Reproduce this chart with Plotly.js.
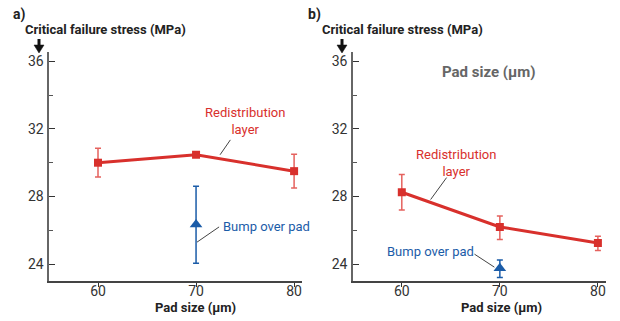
<!DOCTYPE html>
<html><head><meta charset="utf-8">
<script src="https://cdn.plot.ly/plotly-3.0.1.min.js"></script>
<style>html,body{margin:0;padding:0;background:#fff}#plot{width:620px;height:321px}</style>
</head><body><div id="plot"></div>
<script>
// Data
const padSize = [60, 70, 80];
const rdlA = [30.0, 30.47, 29.5];
const rdlAerr = [0.85, 0, 1.0];
const bumpAx = [70];
const bumpA = [26.35];
const bumpAerrPlus = [2.25];
const bumpAerrMinus = [2.3];
const rdlB = [28.25, 26.2, 25.25];
const rdlBerrPlus = [1.05, 0.65, 0.4];
const rdlBerrMinus = [1.05, 0.75, 0.45];
const bumpBx = [70];
const bumpB = [23.75];
const bumpBerrPlus = [0.5];
const bumpBerrMinus = [0.55];
const xTicks = [60, 70, 80];

const RED = '#d8302c', RED_ERR = '#e5625e', BLUE = '#1b5ca8';
const FONT = 'Roboto, "Liberation Sans", Arial, sans-serif';

const traces = [
  {x: padSize, y: rdlA, xaxis: 'x', yaxis: 'y', mode: 'lines+markers', type: 'scatter',
   line: {color: RED, width: 3}, marker: {symbol: 'square', size: 8, color: RED},
   error_y: {type: 'data', array: rdlAerr, color: RED_ERR, thickness: 1.5, width: 3}},
  {x: bumpAx, y: bumpA, xaxis: 'x', yaxis: 'y', mode: 'markers', type: 'scatter',
   marker: {symbol: 'triangle-up', size: 11, color: BLUE},
   error_y: {type: 'data', symmetric: false, array: bumpAerrPlus, arrayminus: bumpAerrMinus, color: BLUE, thickness: 1.5, width: 3}},
  {x: padSize, y: rdlB, xaxis: 'x2', yaxis: 'y2', mode: 'lines+markers', type: 'scatter',
   line: {color: RED, width: 3}, marker: {symbol: 'square', size: 8, color: RED},
   error_y: {type: 'data', symmetric: false, array: rdlBerrPlus, arrayminus: rdlBerrMinus, color: RED_ERR, thickness: 1.5, width: 3}},
  {x: bumpBx, y: bumpB, xaxis: 'x2', yaxis: 'y2', mode: 'markers', type: 'scatter',
   marker: {symbol: 'triangle-up', size: 11, color: BLUE},
   error_y: {type: 'data', symmetric: false, array: bumpBerrPlus, arrayminus: bumpBerrMinus, color: BLUE, thickness: 1.5, width: 3}}
];

function xax(domain, anchor) {
  return {domain: domain, anchor: anchor, range: [55, 80.8], tickvals: xTicks, ticks: 'outside', ticklen: 4,
    tickcolor: '#333', showline: true, linecolor: '#444', linewidth: 1.5, showgrid: false, zeroline: false,
    tickfont: {family: FONT, size: 14, color: '#333'}, ticklabelstandoff: -7};
}
function yax(anchor) {
  return {domain: [0.1246, 0.838], anchor: anchor, range: [23, 36.55], tick0: 24, dtick: 4, ticks: 'inside', ticklen: 6,
    tickcolor: '#333', showline: true, linecolor: '#666', linewidth: 1.5, showgrid: false, zeroline: false,
    minor: {dtick: 2, tick0: 0, ticks: 'inside', ticklen: 4, tickcolor: '#555'},
    tickfont: {family: FONT, size: 14, color: '#333'}, ticklabelstandoff: 1};
}

const paperTxt = (x, y, text, opts) => Object.assign({xref: 'paper', yref: 'paper', x: x / 620, y: 1 - y / 321,
  xanchor: 'left', yanchor: 'middle', text: text, showarrow: false,
  font: {family: FONT, size: 13, color: '#222'}}, opts || {});

// down arrows as shapes (paper coordinates from pixel positions)
function arrow(px) {
  const X = v => v / 620, Y = v => 1 - v / 321;
  return [
    {type: 'line', xref: 'paper', yref: 'paper', x0: X(px), x1: X(px), y0: Y(39), y1: Y(46), line: {color: '#111', width: 3}},
    {type: 'path', xref: 'paper', yref: 'paper',
     path: `M ${X(px - 5)} ${Y(45)} L ${X(px + 5)} ${Y(45)} L ${X(px)} ${Y(53)} Z`,
     fillcolor: '#111', line: {color: '#111', width: 0.5}}
  ];
}

const layout = {
  width: 620, height: 321, margin: {l: 0, r: 0, t: 0, b: 0}, showlegend: false,
  paper_bgcolor: '#fff', plot_bgcolor: '#fff',
  xaxis: xax([0.079, 0.487], 'y'), yaxis: yax('x'),
  xaxis2: xax([0.569, 0.977], 'y2'), yaxis2: yax('x2'),
  annotations: [
    paperTxt(11, 14, '<b>a)</b>', {font: {family: FONT, size: 14, color: '#222'}}),
    paperTxt(306, 14, '<b>b)</b>', {font: {family: FONT, size: 14, color: '#222'}}),
    paperTxt(23, 29, '<b>Critical failure stress (MPa)</b>'),
    paperTxt(320, 29, '<b>Critical failure stress (MPa)</b>'),
    paperTxt(196, 307, '<b>Pad size (µm)</b>', {xanchor: 'center'}),
    paperTxt(501, 307, '<b>Pad size (µm)</b>', {xanchor: 'center'}),
    {xref: 'x', yref: 'y', x: 75, y: 32.47, text: 'Redistribution<br>layer', showarrow: false,
     font: {family: FONT, size: 13, color: RED}},
    {xref: 'x', yref: 'y', x: 72.55, y: 26.24, xanchor: 'left', text: 'Bump over pad', showarrow: false,
     font: {family: FONT, size: 13, color: BLUE}},
    {xref: 'x2', yref: 'y2', x: 68.93, y: 35.35, text: '<b>Pad size (µm)</b>', showarrow: false,
     font: {family: FONT, size: 15, color: '#666'}},
    {xref: 'x2', yref: 'y2', x: 65.48, y: 30.0, text: 'Redistribution<br>layer', showarrow: false,
     font: {family: FONT, size: 13, color: RED}},
    {xref: 'x2', yref: 'y2', x: 62.94, y: 24.76, text: 'Bump over pad', showarrow: false,
     font: {family: FONT, size: 13, color: BLUE}}
  ],
  shapes: [
    {type: 'line', xref: 'x', yref: 'y', x0: 73.5, y0: 31.35, x1: 72.45, y1: 30.47, line: {color: '#444', width: 1}},
    {type: 'line', xref: 'x', yref: 'y', x0: 70.1, y0: 25.3, x1: 72.35, y1: 26.2, line: {color: '#444', width: 1}},
    {type: 'line', xref: 'x2', yref: 'y2', x0: 64.57, y0: 29.12, x1: 62.94, y1: 27.82, line: {color: '#444', width: 1}},
    {type: 'line', xref: 'x2', yref: 'y2', x0: 67.41, y0: 24.59, x1: 69.44, y1: 23.82, line: {color: '#444', width: 1}}
  ].concat(arrow(39), arrow(342))
};

Plotly.newPlot('plot', traces, layout, {staticPlot: true, displayModeBar: false});
</script></body></html>
